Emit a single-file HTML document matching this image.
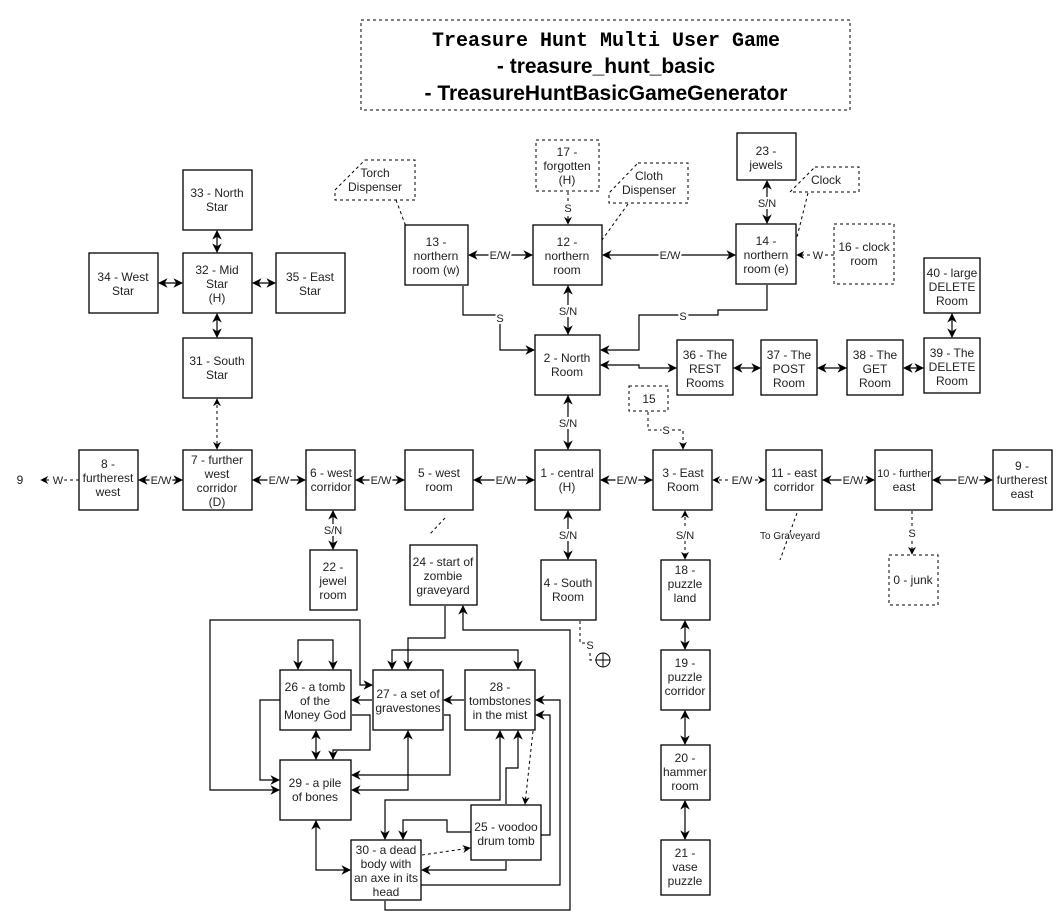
<!DOCTYPE html>
<html><head><meta charset="utf-8"><style>
body{margin:0;background:#fff}
svg{display:block}
.b{fill:#fff;stroke:#000;stroke-width:1.3}
.d{fill:#fff;stroke:#000;stroke-width:1;stroke-dasharray:3,3}
.l{fill:none;stroke:#000;stroke-width:1.2}
.ld{fill:none;stroke:#000;stroke-width:1;stroke-dasharray:3,3}
text{font-family:"Liberation Sans",sans-serif;font-size:12px;fill:#222;text-anchor:middle}
.lb{font-size:11px;paint-order:stroke;stroke:#fff;stroke-width:4px}
</style></head><body>
<svg width="1061" height="919" viewBox="0 0 1061 919" xmlns="http://www.w3.org/2000/svg">
<defs><marker id="a" viewBox="0 0 10 10" refX="9" refY="5" markerWidth="8" markerHeight="8" orient="auto-start-reverse"><path d="M0,0 L10,5 L0,10 L3,5z" fill="#000"/></marker></defs>

<rect x="361" y="20" width="489" height="90" class="d"/>
<text x="606" y="46" style="font-family:'Liberation Mono',monospace;font-weight:bold;font-size:20px;fill:#000">Treasure Hunt Multi User Game</text>
<text x="606" y="73" style="font-weight:bold;font-size:21px;fill:#000">- treasure_hunt_basic</text>
<text x="606" y="100" style="font-weight:bold;font-size:21px;fill:#000">- TreasureHuntBasicGameGenerator</text>

<!-- connectors -->
<g class="l" marker-start="url(#a)" marker-end="url(#a)">
<path d="M217,231V252"/><path d="M217,314V337"/><path d="M159,283H182"/><path d="M253,283H275"/>
<path d="M469,255H532"/><path d="M603,255H735"/><path d="M767,181V223"/><path d="M568,286V334"/>
<path d="M568,396V449"/><path d="M952,314V337"/>
<path d="M734,368H760"/><path d="M818,368H846"/><path d="M904,368H923"/>
<path d="M139,480H182"/><path d="M253,480H305"/><path d="M356,480H404"/><path d="M474,480H534"/><path d="M601,480H652"/>
<path d="M823,480H874"/><path d="M933,480H992"/>
<path d="M333,511V549"/><path d="M568,511V559"/>
<path d="M685,621V649"/><path d="M685,711V744"/><path d="M685,801V839"/>
<path d="M316,731V759"/>
<path d="M316,821V870H350"/>
<path d="M601,365H639V368H676"/>
<path d="M408,731V790H352"/>
<path d="M385,839V800H500V731"/>
<path d="M298,669V640H333V669"/>
<path d="M392,669V650H518V669"/>
<path d="M372,685H360V620H210V790H279"/>
</g>
<g class="ld" marker-start="url(#a)" marker-end="url(#a)">
<path d="M217,399V449"/><path d="M713,480H765"/><path d="M685,511V559"/>
</g>
<g class="l" marker-end="url(#a)">
<path d="M463,286V315H500V350H534"/>
<path d="M767,285V310H718V315H639V350H601"/>
<path d="M445,606V638H408V669"/>
<path d="M280,700H260V780H279"/>
<path d="M372,700H352"/><path d="M464,700H444"/>
<path d="M352,715H370V750H333V759"/>
<path d="M444,715H450V775H352"/>
<path d="M506,804V768H518V731"/>
<path d="M471,832H447V820H403V839"/>
<path d="M506,861V870H422"/>
<path d="M421,885H560V700H536"/>
<path d="M541,835H550V715H536"/>
<path d="M385,901V910H570V630H463V606"/>
</g>
<g class="ld" marker-end="url(#a)">
<path d="M568,192V224"/><path d="M834,255H797"/><path d="M648,412V430H683V449"/>
<path d="M79,480H41"/><path d="M912,511V554"/>
<path d="M533,731L525,804"/><path d="M422,855L470,848"/>
</g>
<g class="ld">
<path d="M628,204L602,240"/><path d="M396,200L411,240"/><path d="M808,193L797,237"/>
<path d="M445,518L430,534"/><path d="M797,513L780,560"/>
<path d="M580,621V643H590V660H596"/>
</g>
<circle cx="603" cy="660" r="7" fill="none" stroke="#000"/><path d="M596,660H610M603,653V667" stroke="#000"/>

<!-- edge labels -->
<g>
<text class="lb" x="500" y="259">E/W</text><text class="lb" x="670" y="259">E/W</text>
<text class="lb" x="568" y="212">S</text><text class="lb" x="767" y="207">S/N</text>
<text class="lb" x="818" y="259">W</text><text class="lb" x="568" y="315">S/N</text>
<text class="lb" x="500" y="322">S</text><text class="lb" x="683" y="320">S</text>
<text class="lb" x="568" y="427">S/N</text><text class="lb" x="666" y="434">S</text>
<text class="lb" x="58" y="484">W</text><text class="lb" x="161" y="484">E/W</text><text class="lb" x="279" y="484">E/W</text>
<text class="lb" x="381" y="484">E/W</text><text class="lb" x="506" y="484">E/W</text><text class="lb" x="627" y="484">E/W</text>
<text class="lb" x="742" y="484">E/W</text><text class="lb" x="853" y="484">E/W</text><text class="lb" x="968" y="484">E/W</text>
<text class="lb" x="333" y="534">S/N</text><text class="lb" x="568" y="539">S/N</text><text class="lb" x="685" y="539">S/N</text>
<text class="lb" x="912" y="537">S</text><text class="lb" x="590" y="649">S</text>
<text x="20" y="484">9</text><text x="790" y="539" style="font-size:10px">To Graveyard</text>
</g>

<!-- nodes -->
<rect class="b" x="183" y="170" width="69" height="60"/><text x="217" y="197">33 - North</text><text x="217" y="211">Star</text>
<rect class="b" x="183" y="253" width="69" height="60"/><text x="217" y="274">32 - Mid</text><text x="217" y="288">Star</text><text x="217" y="302">(H)</text>
<rect class="b" x="89" y="253" width="69" height="60"/><text x="123" y="281">34 - West</text><text x="123" y="295">Star</text>
<rect class="b" x="276" y="253" width="69" height="60"/><text x="310" y="281">35 - East</text><text x="310" y="295">Star</text>
<rect class="b" x="183" y="338" width="69" height="60"/><text x="217" y="365">31 - South</text><text x="217" y="379">Star</text>
<rect class="b" x="183" y="450" width="69" height="60"/><text x="217" y="464">7 - further</text><text x="217" y="478">west</text><text x="217" y="492">corridor</text><text x="217" y="506">(D)</text>
<rect class="b" x="79" y="450" width="59" height="60"/><text x="108" y="468">8 -</text><text x="108" y="482">furtherest</text><text x="108" y="496">west</text>
<rect class="b" x="306" y="450" width="49" height="60"/><text x="331" y="477">6 - west</text><text x="331" y="491">corridor</text>
<rect class="b" x="405" y="450" width="68" height="60"/><text x="439" y="477">5 - west</text><text x="439" y="491">room</text>
<rect class="b" x="405" y="225" width="63" height="60"/><text x="436" y="246">13 -</text><text x="436" y="260">northern</text><text x="436" y="274">room (w)</text>
<path class="d" d="M365,160H415V200H335V190Z"/><text x="375" y="177">Torch</text><text x="375" y="191">Dispenser</text>
<rect class="d" x="536" y="140" width="63" height="51"/><text x="567" y="156">17 -</text><text x="567" y="170">forgotten</text><text x="567" y="184">(H)</text>
<path class="d" d="M638,163H688V203H609V193Z"/><text x="649" y="180">Cloth</text><text x="649" y="194">Dispenser</text>
<rect class="b" x="533" y="225" width="69" height="60"/><text x="567" y="246">12 -</text><text x="567" y="260">northern</text><text x="567" y="274">room</text>
<rect class="b" x="737" y="133" width="59" height="47"/><text x="766" y="155">23 -</text><text x="766" y="169">jewels</text>
<path class="d" d="M815,167H859V192H790Z"/><text x="826" y="184">Clock</text>
<rect class="b" x="736" y="224" width="60" height="60"/><text x="766" y="245">14 -</text><text x="766" y="259">northern</text><text x="766" y="273">room (e)</text>
<rect class="d" x="834" y="224" width="60" height="60"/><text x="864" y="251">16 - clock</text><text x="864" y="265">room</text>
<rect class="b" x="924" y="258" width="56" height="55"/><text x="952" y="277">40 - large</text><text x="952" y="291">DELETE</text><text x="952" y="305">Room</text>
<rect class="b" x="924" y="338" width="56" height="55"/><text x="952" y="357">39 - The</text><text x="952" y="371">DELETE</text><text x="952" y="385">Room</text>
<rect class="b" x="847" y="340" width="56" height="55"/><text x="875" y="359">38 - The</text><text x="875" y="373">GET</text><text x="875" y="387">Room</text>
<rect class="b" x="761" y="340" width="56" height="55"/><text x="789" y="359">37 - The</text><text x="789" y="373">POST</text><text x="789" y="387">Room</text>
<rect class="b" x="677" y="340" width="56" height="55"/><text x="705" y="359">36 - The</text><text x="705" y="373">REST</text><text x="705" y="387">Rooms</text>
<rect class="b" x="535" y="335" width="65" height="60"/><text x="567" y="362">2 - North</text><text x="567" y="376">Room</text>
<rect class="d" x="629" y="386" width="39" height="25"/><text x="649" y="403">15</text>
<rect class="b" x="535" y="450" width="65" height="60"/><text x="567" y="477">1 - central</text><text x="567" y="491">(H)</text>
<rect class="b" x="653" y="450" width="59" height="60"/><text x="683" y="477">3 - East</text><text x="683" y="491">Room</text>
<rect class="b" x="766" y="450" width="56" height="60"/><text x="794" y="477">11 - east</text><text x="794" y="491">corridor</text>
<rect class="b" x="875" y="450" width="57" height="60"/><text x="904" y="477" style="font-size:11px">10 - further</text><text x="904" y="491">east</text>
<rect class="b" x="993" y="450" width="59" height="60"/><text x="1022" y="470">9 -</text><text x="1022" y="484">furtherest</text><text x="1022" y="498">east</text>
<rect class="b" x="310" y="550" width="47" height="60"/><text x="333" y="571">22 -</text><text x="333" y="585">jewel</text><text x="333" y="599">room</text>
<rect class="b" x="410" y="545" width="67" height="60"/><text x="443" y="566">24 - start of</text><text x="443" y="580">zombie</text><text x="443" y="594">graveyard</text>
<rect class="b" x="541" y="560" width="55" height="60"/><text x="568" y="587">4 - South</text><text x="568" y="601">Room</text>
<rect class="d" x="889" y="555" width="49" height="50"/><text x="913" y="584">0 - junk</text>
<rect class="b" x="661" y="560" width="49" height="60"/><text x="685" y="574">18 -</text><text x="685" y="588">puzzle</text><text x="685" y="602">land</text>
<rect class="b" x="661" y="650" width="49" height="60"/><text x="685" y="667">19 -</text><text x="685" y="681">puzzle</text><text x="685" y="695">corridor</text>
<rect class="b" x="661" y="745" width="49" height="55"/><text x="685" y="762">20 -</text><text x="685" y="776">hammer</text><text x="685" y="790">room</text>
<rect class="b" x="661" y="840" width="49" height="55"/><text x="685" y="857">21 -</text><text x="685" y="871">vase</text><text x="685" y="885">puzzle</text>
<rect class="b" x="280" y="670" width="71" height="60"/><text x="315" y="691">26 - a tomb</text><text x="315" y="705">of the</text><text x="315" y="719">Money God</text>
<rect class="b" x="373" y="670" width="70" height="60"/><text x="408" y="698">27 - a set of</text><text x="408" y="712">gravestones</text>
<rect class="b" x="465" y="670" width="70" height="60"/><text x="500" y="691">28 -</text><text x="500" y="705">tombstones</text><text x="500" y="719">in the mist</text>
<rect class="b" x="280" y="760" width="71" height="60"/><text x="315" y="787">29 - a pile</text><text x="315" y="801">of bones</text>
<rect class="b" x="471" y="805" width="70" height="55"/><text x="506" y="831">25 - voodoo</text><text x="506" y="845">drum tomb</text>
<rect class="b" x="351" y="840" width="70" height="60"/><text x="386" y="854">30 - a dead</text><text x="386" y="868">body with</text><text x="386" y="882">an axe in its</text><text x="386" y="896">head</text>
</svg>
</body></html>
